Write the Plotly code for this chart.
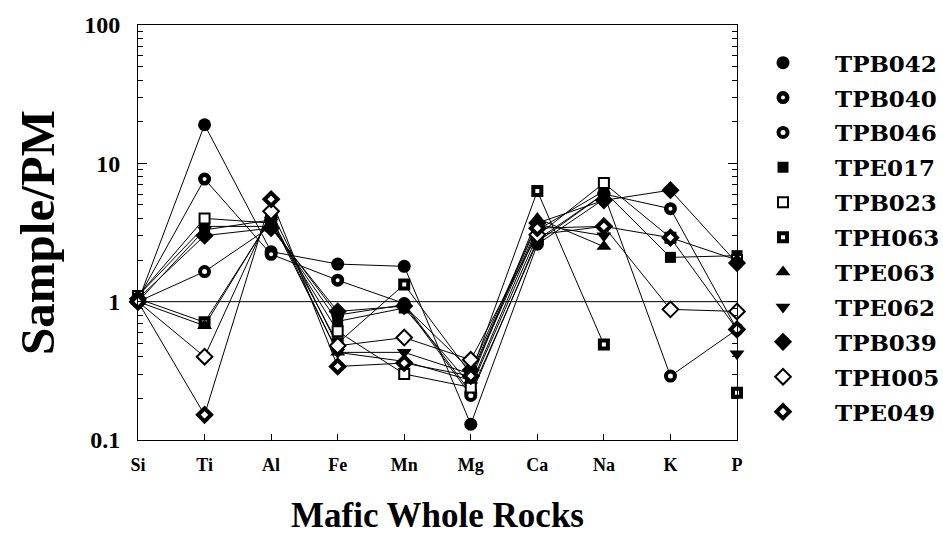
import plotly.graph_objects as go

elements = ["Si", "Ti", "Al", "Fe", "Mn", "Mg", "Ca", "Na", "K", "P"]

TPB042 = [1.00, 19.0, 2.30, 1.87, 1.80, 0.13, 2.60, 5.5, None, None]
TPB040 = [1.05, 7.7, 2.20, 1.43, 0.97, 0.22, 2.70, 6.0, 4.7, 0.63]
TPB046 = [1.00, 1.65, 3.50, 0.80, 0.95, 0.21, 2.80, 6.0, 0.29, 0.63]
TPE017 = [1.10, 3.50, 3.50, 0.72, 0.90, 0.25, 3.30, 6.3, 2.09, 2.15]
TPB023 = [1.10, 4.00, 3.70, 0.61, 0.30, 0.24, 3.00, 7.2, 2.90, 2.00]
TPH063 = [1.05, 0.71, 4.00, 0.50, 1.33, 0.30, 6.30, 0.49, None, 0.22]
TPE063 = [1.00, 0.67, 4.10, 0.43, 0.37, 0.27, 4.00, 2.5, None, None]
TPE062 = [1.00, 3.30, 3.90, 0.43, 0.43, 0.30, 3.60, 3.0, None, 0.42]
TPB039 = [1.05, 3.00, 3.40, 0.85, 0.93, 0.32, 3.70, 5.4, 6.4, 1.90]
TPH005 = [1.00, 0.40, 4.50, 0.48, 0.55, 0.38, 3.05, 3.5, 0.88, 0.85]
TPE049 = [1.00, 0.152, 5.50, 0.34, 0.36, 0.29, 3.40, 3.5, 2.90, 0.63]

# name, values, symbol, fill, outline width, size
series = [
    ("TPB042", TPB042, "circle", "black", 0, 13),
    ("TPB040", TPB040, "circle", "white", 4.5, 8.5),
    ("TPB046", TPB046, "circle", "white", 4, 9),
    ("TPE017", TPE017, "square", "black", 0, 11),
    ("TPB023", TPB023, "square", "white", 2, 10),
    ("TPH063", TPH063, "square", "white", 4, 8),
    ("TPE063", TPE063, "triangle-up", "black", 0, 13),
    ("TPE062", TPE062, "triangle-down", "black", 0, 13),
    ("TPB039", TPB039, "diamond", "black", 0, 14),
    ("TPH005", TPH005, "diamond", "white", 2, 12),
    ("TPE049", TPE049, "diamond", "white", 4, 10),
]

SERIF = "Liberation Serif"
x = list(range(len(elements)))

fig = go.Figure()
for name, vals, sym, fill, lw, size in series:
    fig.add_trace(go.Scatter(
        x=x, y=vals, name=name, mode="lines",
        line=dict(color="black", width=1),
        cliponaxis=False, connectgaps=False, showlegend=False,
        hoverinfo="skip",
    ))
for name, vals, sym, fill, lw, size in series:
    fig.add_trace(go.Scatter(
        x=x, y=vals, name=name, mode="markers",
        marker=dict(symbol=sym, color=fill, size=size,
                    line=dict(color="black", width=lw)),
        cliponaxis=False, legendgroup=name,
    ))

fig.add_shape(type="line", xref="paper", x0=0, x1=1, yref="y", y0=1, y1=1,
              line=dict(color="black", width=1), layer="below")

minor_vals = [m * 10 ** e for e in (-1, 0, 1) for m in range(2, 10)]

fig.update_layout(
    width=943, height=552,
    margin=dict(l=138, r=206, t=25, b=112, autoexpand=False),
    paper_bgcolor="white", plot_bgcolor="white",
    font=dict(family=SERIF, color="black"),
    showlegend=True,
    legend=dict(
        x=0.99, y=0.961, xanchor="left", yanchor="top",
        font=dict(family="DejaVu Serif", size=23, weight="bold", color="black"),
        traceorder="grouped", tracegroupgap=2, itemwidth=94,
        bgcolor="rgba(0,0,0,0)",
    ),
    xaxis=dict(
        range=[0, 9], tickmode="array", tickvals=x, ticktext=elements,
        showline=True, linecolor="black", linewidth=1, mirror=True,
        ticks="inside", ticklen=6, tickcolor="black",
        showgrid=False, zeroline=False, ticklabelstandoff=8,
        tickfont=dict(family=SERIF, size=18, weight="bold"),
        title=dict(text="Mafic Whole Rocks", standoff=28,
                   font=dict(family=SERIF, size=35, weight="bold")),
    ),
    yaxis=dict(
        type="log", range=[-1, 2], tickmode="array",
        tickvals=[0.1, 1, 10, 100], ticktext=["0.1", "1", "10", "100"],
        showline=True, linecolor="black", linewidth=1, mirror="ticks",
        ticks="inside", ticklen=9, tickcolor="black",
        minor=dict(ticks="inside", ticklen=5, tickcolor="black",
                   tickmode="array", tickvals=minor_vals, showgrid=False),
        showgrid=False, zeroline=False, ticklabelstandoff=12,
        tickfont=dict(family=SERIF, size=24, weight="bold"),
        title=dict(text="Sample/PM", standoff=14,
                   font=dict(family=SERIF, size=49, weight="bold")),
    ),
)

fig.write_html("out.html")
